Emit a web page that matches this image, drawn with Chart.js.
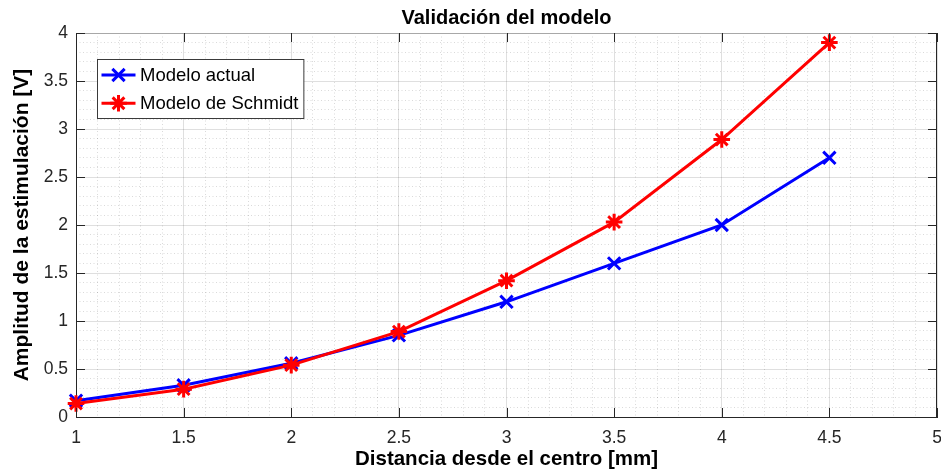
<!DOCTYPE html>
<html>
<head>
<meta charset="utf-8">
<script src="https://cdn.jsdelivr.net/npm/chart.js@4"></script>
<style>
  html, body { margin: 0; padding: 0; background: #fff; }
  #wrap { width: 941px; height: 471px; }
</style>
</head>
<body>
<div id="wrap"><canvas id="c" width="941" height="471"></canvas></div>
<script>
// Datos de la validación
const distancias = [1, 1.5, 2, 2.5, 3, 3.5, 4, 4.5];
const modeloActual = [0.17, 0.33, 0.56, 0.85, 1.2, 1.6, 2.0, 2.7];
const modeloSchmidt = [0.14, 0.29, 0.54, 0.89, 1.42, 2.03, 2.89, 3.9];
const nombresSeries = ['Modelo actual', 'Modelo de Schmidt'];
const tituloGrafico = 'Validación del modelo';
const tituloX = 'Distancia desde el centro [mm]';
const tituloY = 'Amplitud de la estimulación [V]';
const rangoX = [1, 5];
const rangoY = [0, 4];
const pasoMayor = 0.5;
const pasoMenor = 0.1;

const FUENTE = "'Liberation Sans', Arial, Helvetica, sans-serif";
const EJE = '#262626';
const AZUL = '#0000ff';
const ROJO = '#ff0000';

const esMayor = v => Math.abs(v / pasoMayor - Math.round(v / pasoMayor)) < 1e-6;
const etiqueta = v => String(Number(Number(v).toFixed(2)));

function puntos(ys) {
  return distancias.map((x, i) => ({ x: x, y: ys[i] }));
}

// Marcadores dibujados a mano para la leyenda
function marcador(ctx, estilo, x, y, r, color) {
  ctx.save();
  ctx.strokeStyle = color;
  ctx.lineWidth = 3;
  ctx.beginPath();
  const d = Math.cos(Math.PI / 4) * r;
  ctx.moveTo(x - d, y - d); ctx.lineTo(x + d, y + d);
  ctx.moveTo(x - d, y + d); ctx.lineTo(x + d, y - d);
  if (estilo === 'star') {
    ctx.moveTo(x - r, y); ctx.lineTo(x + r, y);
    ctx.moveTo(x, y - r); ctx.lineTo(x, y + r);
  }
  ctx.stroke();
  ctx.restore();
}

const series = [
  { nombre: nombresSeries[0], valores: modeloActual, color: AZUL, estilo: 'crossRot', radio: 8.7, orden: 1 },
  { nombre: nombresSeries[1], valores: modeloSchmidt, color: ROJO, estilo: 'star', radio: 8.3, orden: 0 }
];

// Título centrado sobre el área de trazado
const tituloPlugin = {
  id: 'tituloArea',
  afterDraw(chart) {
    const { ctx, chartArea } = chart;
    ctx.save();
    ctx.font = 'bold 20px ' + FUENTE;
    ctx.fillStyle = '#000';
    ctx.textAlign = 'center';
    ctx.textBaseline = 'alphabetic';
    ctx.fillText(tituloGrafico, (chartArea.left + chartArea.right) / 2, 23.5);
    ctx.restore();
  }
};

// Caja completa y marcas hacia dentro en los cuatro lados
const cajaPlugin = {
  id: 'cajaEjes',
  afterDatasetsDraw(chart) {
    const { ctx, chartArea: a, scales } = chart;
    const L = 9;
    ctx.save();
    ctx.lineWidth = 1;
    ctx.strokeStyle = '#a8a8a8';
    ctx.beginPath();
    ctx.moveTo(a.left, Math.round(a.top) + 0.5);
    ctx.lineTo(a.right, Math.round(a.top) + 0.5);
    ctx.stroke();
    ctx.strokeStyle = EJE;
    ctx.beginPath();
    const xr = Math.round(a.right) - 0.5;
    ctx.moveTo(xr, a.top); ctx.lineTo(xr, a.bottom);
    scales.x.ticks.forEach(t => {
      const px = Math.round(scales.x.getPixelForValue(t.value)) + 0.5;
      ctx.moveTo(px, a.bottom); ctx.lineTo(px, a.bottom - L);
      ctx.moveTo(px, a.top); ctx.lineTo(px, a.top + L);
    });
    scales.y.ticks.forEach(t => {
      const py = Math.round(scales.y.getPixelForValue(t.value)) + 0.5;
      ctx.moveTo(a.left, py); ctx.lineTo(a.left + L, py);
      ctx.moveTo(a.right, py); ctx.lineTo(a.right - L, py);
    });
    ctx.stroke();
    ctx.restore();
  }
};

// Leyenda dentro del área de trazado
const leyendaPlugin = {
  id: 'leyendaInterior',
  afterDraw(chart) {
    const { ctx, chartArea: a } = chart;
    const bx = Math.round(a.left + 21) + 0.5;
    const by = Math.round(a.top + 26) + 0.5;
    ctx.save();
    ctx.font = '18.5px ' + FUENTE;
    const w = Math.max(...series.map(s => ctx.measureText(s.nombre).width));
    const bw = 42.5 + w + 5.5;
    const bh = 59;
    ctx.fillStyle = '#fff';
    ctx.fillRect(bx, by, bw, bh);
    ctx.strokeStyle = '#3a3a3a';
    ctx.lineWidth = 1;
    ctx.strokeRect(bx, by, bw, bh);
    series.forEach((s, i) => {
      const y = by + 15.5 + i * 28.3;
      ctx.strokeStyle = s.color;
      ctx.lineWidth = 3;
      ctx.beginPath();
      ctx.moveTo(bx + 4, y); ctx.lineTo(bx + 38, y);
      ctx.stroke();
      marcador(ctx, s.estilo, bx + 21, y, s.radio, s.color);
      ctx.fillStyle = '#000';
      ctx.textAlign = 'left';
      ctx.textBaseline = 'middle';
      ctx.fillText(s.nombre, bx + 42.5, y + 1);
    });
    ctx.restore();
  }
};

const gridMayor = 'rgba(38,38,38,0.15)';
const gridMenor = 'rgba(38,38,38,0.17)';

new Chart(document.getElementById('c'), {
  type: 'line',
  data: {
    datasets: series.map(s => ({
      label: s.nombre,
      data: puntos(s.valores),
      borderColor: s.color,
      backgroundColor: s.color,
      borderWidth: 3,
      pointStyle: s.estilo,
      pointRadius: s.radio,
      pointHoverRadius: s.radio,
      pointBorderWidth: 3,
      pointBorderColor: s.color,
      tension: 0,
      fill: false,
      clip: false,
      order: s.orden
    }))
  },
  options: {
    responsive: false,
    animation: false,
    devicePixelRatio: 1,
    layout: { autoPadding: false, padding: { top: 33, right: 4, bottom: 0, left: 0 } },
    plugins: {
      legend: { display: false },
      title: { display: false },
      tooltip: { enabled: false }
    },
    scales: {
      x: {
        type: 'linear',
        position: 'bottom',
        min: rangoX[0], max: rangoX[1],
        afterFit: s => { s.height = 54; s.paddingRight = 0; s.paddingLeft = 0; },
        ticks: {
          stepSize: pasoMayor,
          color: EJE,
          padding: 11,
          font: { family: FUENTE, size: 17.5 },
          maxRotation: 0,
          callback: v => etiqueta(v)
        },
        grid: { color: gridMayor, lineWidth: 1, drawTicks: false },
        border: { color: EJE, width: 1 },
        title: {
          display: true,
          text: tituloX,
          color: '#000',
          font: { family: FUENTE, size: 20.5, weight: 'bold', lineHeight: 1 },
          padding: { top: 0, bottom: 1.5 }
        }
      },
      xMenor: {
        type: 'linear',
        position: 'bottom',
        min: rangoX[0], max: rangoX[1],
        afterFit: s => { s.height = 0; s.paddingRight = 0; s.paddingLeft = 0; },
        ticks: { display: false, stepSize: pasoMenor },
        grid: {
          drawTicks: false,
          lineWidth: 1,
          color: c => esMayor(c.tick.value) ? 'rgba(0,0,0,0)' : gridMenor
        },
        border: { display: false, dash: [1, 2.5] }
      },
      y: {
        type: 'linear',
        position: 'left',
        min: rangoY[0], max: rangoY[1],
        afterFit: s => { s.width = 76; s.paddingTop = 0; s.paddingBottom = 0; },
        ticks: {
          stepSize: pasoMayor,
          color: EJE,
          padding: 8,
          font: { family: FUENTE, size: 17.5 },
          callback: v => etiqueta(v)
        },
        grid: { color: gridMayor, lineWidth: 1, drawTicks: false },
        border: { color: EJE, width: 1 },
        title: {
          display: true,
          text: tituloY,
          color: '#000',
          font: { family: FUENTE, size: 21, weight: 'bold', lineHeight: 1 },
          padding: { top: 12, bottom: 0 }
        }
      },
      yMenor: {
        type: 'linear',
        position: 'left',
        min: rangoY[0], max: rangoY[1],
        afterFit: s => { s.width = 0; s.paddingTop = 0; s.paddingBottom = 0; },
        ticks: { display: false, stepSize: pasoMenor },
        grid: {
          drawTicks: false,
          lineWidth: 1,
          color: c => esMayor(c.tick.value) ? 'rgba(0,0,0,0)' : gridMenor
        },
        border: { display: false, dash: [1, 2.5] }
      }
    }
  },
  plugins: [tituloPlugin, cajaPlugin, leyendaPlugin]
});
</script>
</body>
</html>
